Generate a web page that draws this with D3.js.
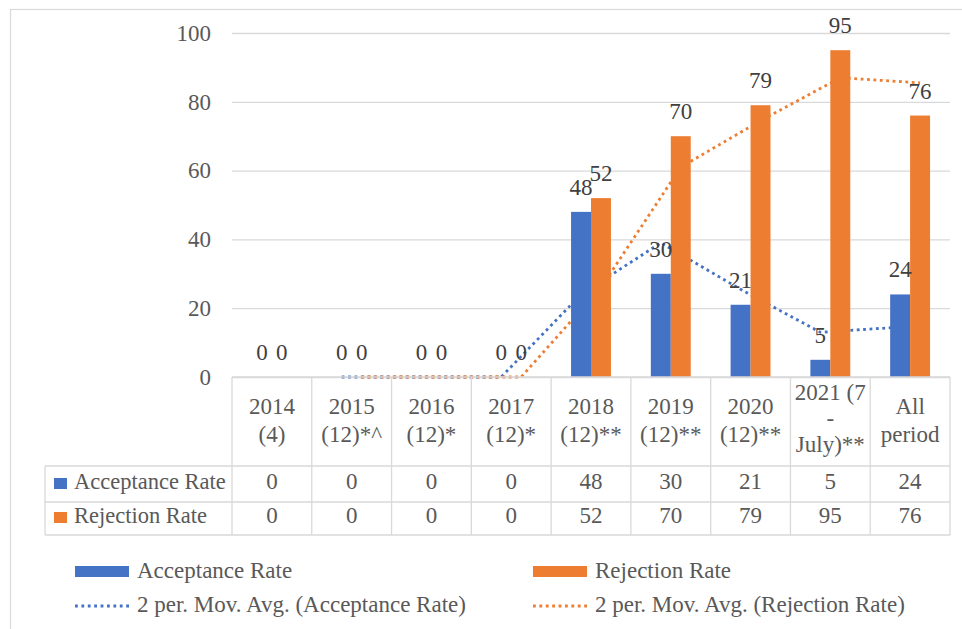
<!DOCTYPE html>
<html>
<head>
<meta charset="utf-8">
<script src="https://cdn.jsdelivr.net/npm/d3@7"></script>
<style>
html,body{margin:0;padding:0;background:#fff;}
svg text{font-family:"Liberation Serif","Tinos","DejaVu Serif",serif;}
</style>
</head>
<body>
<svg id="chart" width="962" height="629"></svg>
<script>
// ---- data ----
const categories = ["2014\n(4)", "2015\n(12)*^", "2016\n(12)*", "2017\n(12)*", "2018\n(12)**", "2019\n(12)**", "2020\n(12)**", "2021 (7\n-\nJuly)**", "All\nperiod"];
const seriesNames = ["Acceptance Rate", "Rejection Rate"];
const acceptance = [0, 0, 0, 0, 48, 30, 21, 5, 24];
const rejection = [0, 0, 0, 0, 52, 70, 79, 95, 76];
const acceptanceMovAvg = [null, 0, 0, 0, 24, 39, 25.5, 13, 14.5];
const rejectionMovAvg = [null, 0, 0, 0, 26, 61, 74.5, 87, 85.5];
const yTicks = [0, 20, 40, 60, 80, 100];
const trendNames = ["2 per. Mov. Avg. (Acceptance Rate)", "2 per. Mov. Avg. (Rejection Rate)"];

const colors = ["#4472C4", "#ED7D31"];
const gridColor = "#D9D9D9";
const textColor = "#595959";
const labelColor = "#404040";
const fontSize = 23;
const dotDash = "2.8,3.6";
const dotWidth = 2.8;

const svg = d3.select("#chart");
const plot = {left: 232, right: 950, top: 33, bottom: 377};
const tableLeft = 45;
const rowBounds = [377, 466, 502, 535];

// outer border
svg.append("rect").attr("x", 10.5).attr("y", 9.5).attr("width", 1000).attr("height", 700)
  .attr("fill", "none").attr("stroke", gridColor).attr("stroke-width", 1.2);

const x = d3.scaleBand().domain(categories).range([plot.left, plot.right]).paddingInner(0).paddingOuter(0);
const bw = x.bandwidth();
const x1 = d3.scaleBand().domain(seriesNames).range([bw * 0.25, bw * 0.75]);
const y = d3.scaleLinear().domain([0, 100]).range([plot.bottom, plot.top]);

// gridlines + y axis
const yAxis = d3.axisLeft(y).tickValues(yTicks).tickSize(-(plot.right - plot.left)).tickPadding(21);
const ga = svg.append("g").attr("transform", `translate(${plot.left},0)`).call(yAxis);
ga.attr("font-family", null).attr("font-size", null);
ga.select(".domain").remove();
ga.selectAll(".tick line").attr("stroke", gridColor).attr("stroke-width", 1.3);
ga.selectAll(".tick text").attr("fill", textColor).attr("font-size", fontSize);

// moving average lines (behind bars)
const mvSeries = [acceptanceMovAvg, rejectionMovAvg];
mvSeries.forEach((arr, si) => {
  const pts = arr.map((v, i) => ({v, i})).filter(d => d.v !== null);
  const line = d3.line()
    .x(d => x(categories[d.i]) + x1(seriesNames[si]) + x1.bandwidth() / 2)
    .y(d => y(d.v));
  svg.append("path").datum(pts).attr("d", line)
    .attr("fill", "none").attr("stroke", colors[si]).attr("stroke-width", dotWidth)
    .attr("stroke-dasharray", dotDash);
});

// bars
const values = [acceptance, rejection];
values.forEach((arr, si) => {
  svg.append("g").selectAll("rect").data(arr).join("rect")
    .attr("x", (d, i) => x(categories[i]) + x1(seriesNames[si]))
    .attr("y", d => y(d))
    .attr("width", x1.bandwidth())
    .attr("height", d => y(0) - y(d))
    .attr("fill", colors[si]);
});

// data labels
values.forEach((arr, si) => {
  svg.append("g").selectAll("text").data(arr).join("text")
    .attr("x", (d, i) => x(categories[i]) + x1(seriesNames[si]) + x1.bandwidth() / 2)
    .attr("y", d => y(d) - 17)
    .attr("text-anchor", "middle")
    .attr("font-size", fontSize).attr("fill", labelColor)
    .text(d => d);
});

// ---- data table ----
const tg = svg.append("g");
const hl = (x0, x1_, yy) => tg.append("line").attr("x1", x0).attr("x2", x1_).attr("y1", yy).attr("y2", yy)
  .attr("stroke", gridColor).attr("stroke-width", 1.3);
const vl = (xx, y0, y1_) => tg.append("line").attr("x1", xx).attr("x2", xx).attr("y1", y0).attr("y2", y1_)
  .attr("stroke", gridColor).attr("stroke-width", 1.3);
hl(plot.left, plot.right, rowBounds[0]);
hl(tableLeft, plot.right, rowBounds[1]);
hl(tableLeft, plot.right, rowBounds[2]);
hl(tableLeft, plot.right, rowBounds[3]);
vl(tableLeft, rowBounds[1], rowBounds[3]);
categories.forEach(c => vl(x(c), rowBounds[0], rowBounds[3]));
vl(plot.right, rowBounds[0], rowBounds[3]);

// header category labels
categories.forEach(c => {
  const lines = c.split("\n");
  const lh = lines.length === 3 ? 26 : 28;
  const firstBase = lines.length === 3 ? 400 : 414;
  const t = tg.append("text").attr("text-anchor", "middle").attr("font-size", fontSize).attr("fill", textColor);
  lines.forEach((ln, k) => {
    t.append("tspan").attr("x", x(c) + bw / 2).attr("y", firstBase + k * lh).text(ln);
  });
});

// rows
const rowBase = [489, 523];
values.forEach((arr, si) => {
  tg.append("rect").attr("x", 54).attr("y", rowBase[si] - 11).attr("width", 13).attr("height", 11)
    .attr("fill", colors[si]);
  tg.append("text").attr("x", 74).attr("y", rowBase[si]).attr("font-size", 22.5).attr("fill", textColor)
    .text(seriesNames[si]);
  tg.selectAll(null).data(arr).join("text")
    .attr("x", (d, i) => x(categories[i]) + bw / 2).attr("y", rowBase[si])
    .attr("text-anchor", "middle").attr("font-size", fontSize).attr("fill", textColor)
    .text(d => d);
});

// ---- legend ----
const lg = svg.append("g");
const legX = [75, 533];
seriesNames.forEach((n, si) => {
  lg.append("rect").attr("x", legX[si]).attr("y", 566).attr("width", 54).attr("height", 11).attr("fill", colors[si]);
  lg.append("text").attr("x", legX[si] + 62).attr("y", 578).attr("font-size", fontSize).attr("fill", textColor).text(n);
  lg.append("line").attr("x1", legX[si]).attr("x2", legX[si] + 54).attr("y1", 606).attr("y2", 606)
    .attr("stroke", colors[si]).attr("stroke-width", dotWidth).attr("stroke-dasharray", dotDash);
  lg.append("text").attr("x", legX[si] + 62).attr("y", 612).attr("font-size", fontSize).attr("fill", textColor).text(trendNames[si]);
});
</script>
</body>
</html>
